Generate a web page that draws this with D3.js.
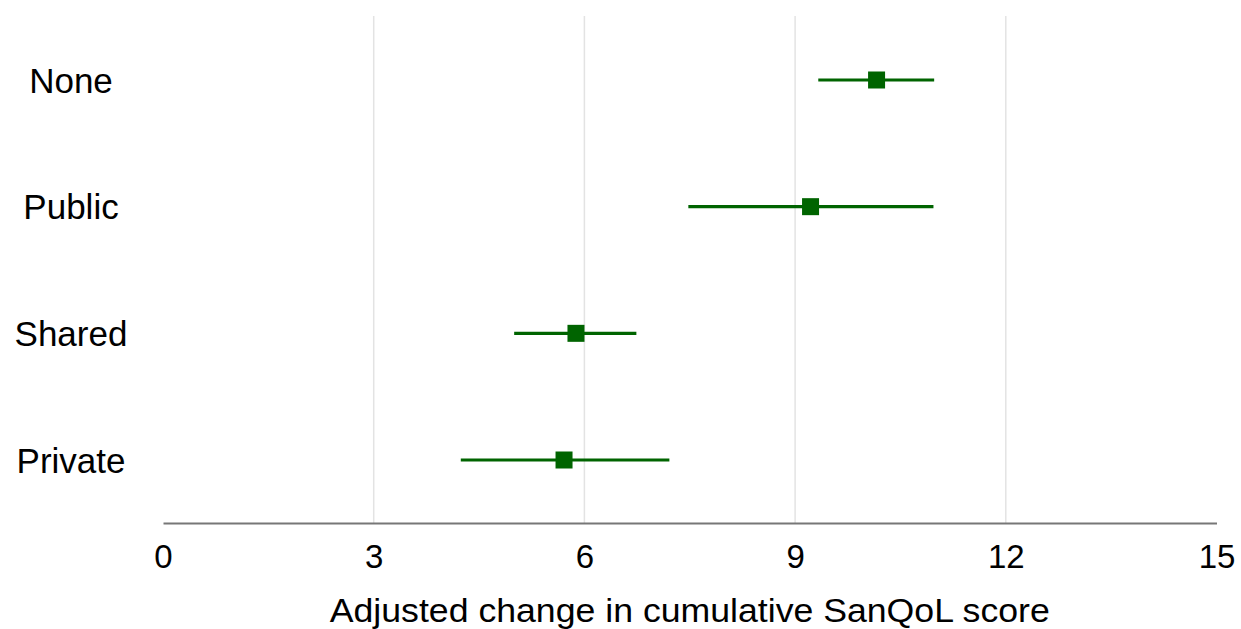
<!DOCTYPE html>
<html>
<head>
<meta charset="utf-8">
<script src="https://cdn.jsdelivr.net/npm/d3@7"></script>
<style>
  body { margin: 0; background: #fff; }
  svg text { font-family: "Liberation Sans", Arial, sans-serif; fill: #000; }
</style>
</head>
<body>
<svg id="chart" width="1241" height="629"></svg>
<script>
// Forest plot — adjusted change in SanQoL score by sanitation type

const categories = ['None', 'Public', 'Shared', 'Private'];
const estimates = [10.16, 9.22, 5.88, 5.71];
const lower = [9.33, 7.48, 5.00, 4.24];
const upper = [10.98, 10.97, 6.74, 7.21];
const xTicks = [0, 3, 6, 9, 12, 15];
const xTitle = 'Adjusted change in cumulative SanQoL score';

const rows = categories.map((c, i) => ({ name: c, est: estimates[i], lo: lower[i], hi: upper[i] }));

const svg = d3.select('#chart');
const plotLeft = 163, plotRight = 1216.5, plotTop = 16, axisY = 523;
const green = '#006400';

const x = d3.scaleLinear().domain([0, 15]).range([plotLeft, plotRight]);
const y = d3.scalePoint().domain(categories).range([80, 460]);

// Gridlines
svg.append('g').selectAll('line').data(xTicks.filter(t => t > 0 && t < 15)).join('line')
  .attr('x1', d => x(d)).attr('x2', d => x(d))
  .attr('y1', plotTop).attr('y2', axisY)
  .attr('stroke', '#e3e3e3').attr('stroke-width', 1.5);

// X axis
const axis = svg.append('g').attr('transform', `translate(0,${axisY})`)
  .call(d3.axisBottom(x).tickValues(xTicks).tickSize(0).tickFormat(d3.format('d')));
axis.select('.domain').attr('stroke', '#777').attr('stroke-width', 2);
axis.selectAll('.tick text').style('font-size', '33px').attr('fill', '#000')
  .attr('y', 45).attr('dy', 0);

// Axis title (descenders run off the bottom edge, as in the source image)
svg.append('text')
  .attr('x', (plotLeft + plotRight) / 2).attr('y', 622)
  .attr('text-anchor', 'middle')
  .attr('textLength', 720).attr('lengthAdjust', 'spacingAndGlyphs')
  .style('font-size', '34px')
  .text(xTitle);

// Category labels
svg.append('g').selectAll('text').data(categories).join('text')
  .attr('x', 71).attr('y', d => y(d))
  .attr('dy', '0.36em')
  .attr('text-anchor', 'middle')
  .style('font-size', '35px')
  .text(d => d);

// CI lines + markers
const g = svg.append('g');
g.selectAll('line').data(rows).join('line')
  .attr('x1', d => x(d.lo)).attr('x2', d => x(d.hi))
  .attr('y1', d => y(d.name)).attr('y2', d => y(d.name))
  .attr('stroke', green).attr('stroke-width', 3.2);
const s = 17;
g.selectAll('rect').data(rows).join('rect')
  .attr('x', d => x(d.est) - s / 2).attr('y', d => y(d.name) - s / 2)
  .attr('width', s).attr('height', s)
  .attr('fill', green);
</script>
</body>
</html>
